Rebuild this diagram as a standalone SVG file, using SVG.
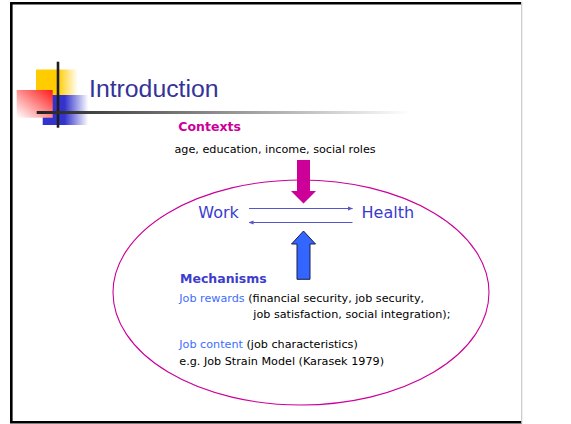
<svg xmlns="http://www.w3.org/2000/svg" width="571" height="424" viewBox="0 0 571 424">
  <defs>
    <style>
      .sans { font-family: "DejaVu Sans", Verdana, sans-serif; }
      .body { font-size: 11.2px; fill: #000; }
      .head { font-size: 12.5px; font-weight: bold; }
      .node { font-size: 16px; fill: #3b3bd0; }
      .link { fill: none; stroke: #5555cc; stroke-width: 1; }
      .light { fill: #3d6dff; }
    </style>
    <linearGradient id="gYellow" x1="0" y1="0" x2="1" y2="0">
      <stop offset="0" stop-color="#ffcc00"/>
      <stop offset="0.52" stop-color="#ffcc00"/>
      <stop offset="1" stop-color="#ffffff"/>
    </linearGradient>
    <linearGradient id="gBlue" x1="0" y1="0" x2="1" y2="0">
      <stop offset="0" stop-color="#3333cc"/>
      <stop offset="0.48" stop-color="#3333cc"/>
      <stop offset="1" stop-color="#ffffff"/>
    </linearGradient>
    <linearGradient id="gRed" x1="1" y1="0" x2="0" y2="1">
      <stop offset="0" stop-color="#ff1a1a"/>
      <stop offset="1" stop-color="#ffffff"/>
    </linearGradient>
    <linearGradient id="gRule" gradientUnits="userSpaceOnUse" x1="37" y1="0" x2="410" y2="0">
      <stop offset="0" stop-color="#222222"/>
      <stop offset="1" stop-color="#ffffff"/>
    </linearGradient>
    <marker id="tip" viewBox="0 0 6 6" refX="5.5" refY="3" markerWidth="5" markerHeight="5" orient="auto" markerUnits="userSpaceOnUse">
      <path d="M0,0.5 L6,3 L0,5.5 Z" fill="#5555cc"/>
    </marker>
  </defs>

  <rect width="571" height="424" fill="#ffffff"/>

  <!-- slide frame -->
  <g id="frame">
    <path d="M11.3,422 V3.3 H521" fill="none" stroke="#000" stroke-width="2.6"/>
    <path d="M10,422.2 H522" fill="none" stroke="#000" stroke-width="2.6"/>
    <path d="M521.7,2 V423.5" fill="none" stroke="#c8c8c8" stroke-width="1.2"/>
  </g>

  <!-- title ornament -->
  <g id="logo">
    <rect x="36" y="69.5" width="42" height="25.5" fill="url(#gYellow)"/>
    <rect x="42.7" y="95" width="45.6" height="30" fill="url(#gBlue)"/>
    <rect x="16.7" y="90" width="36" height="27.7" fill="url(#gRed)"/>
    <rect x="56.7" y="61.7" width="2.6" height="66" fill="#1e1e1e"/>
    <rect x="36.7" y="111" width="373" height="3" fill="url(#gRule)"/>
  </g>

  <g id="title">
    <text x="89" y="96.7" font-family="'Liberation Sans', Arial, sans-serif" font-size="24.8" fill="#333399">Introduction</text>
  </g>

  <g id="contexts">
    <text class="sans head" x="178.3" y="130.7" fill="#cc0099">Contexts</text>
    <text class="sans body" x="174.5" y="153.3" font-size="11">age, education, income, social roles</text>
  </g>

  <g id="ellipse">
    <ellipse cx="301" cy="292.5" rx="188" ry="112.5" fill="none" stroke="#cc0099" stroke-width="1.1"/>
  </g>

  <g id="work">
    <text class="sans node" x="198.3" y="217.7">Work</text>
  </g>
  <g id="health">
    <text class="sans node" x="361.5" y="217.7">Health</text>
  </g>

  <g id="mechanisms">
    <text class="sans head" x="180" y="283.3" fill="#3d3dcc">Mechanisms</text>
    <text class="sans body" x="179.3" y="301.7"><tspan class="light">Job rewards</tspan> (financial security, job security,</text>
    <text class="sans body" x="253.3" y="317.7">job satisfaction, social integration);</text>
    <text class="sans body" x="179.3" y="348.3"><tspan class="light">Job content</tspan> (job characteristics)</text>
    <text class="sans body" x="179.3" y="365">e.g. Job Strain Model (Karasek 1979)</text>
  </g>

  <g id="connectors">
    <line class="link" x1="249" y1="208.5" x2="352.5" y2="208.5" marker-end="url(#tip)"/>
    <line class="link" x1="352.5" y1="222.5" x2="249" y2="222.5" marker-end="url(#tip)"/>
    <!-- contexts push down onto the work-health link -->
    <polygon points="297,160 310,160 310,191 316,191 303.5,203.5 291,191 297,191" fill="#cc0099"/>
    <!-- mechanisms push up -->
    <polygon points="297,279.3 310,279.3 310,244 315.5,244 303.5,231 291.5,244 297,244" fill="#3366ff" stroke="#1c1c50" stroke-width="1"/>
  </g>
</svg>
